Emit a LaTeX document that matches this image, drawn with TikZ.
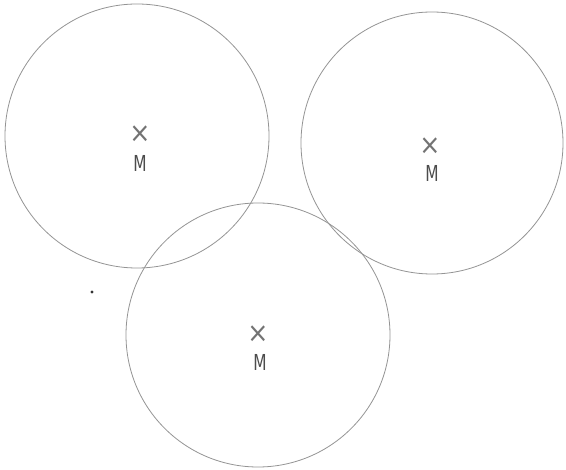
\documentclass[tikz,border=0pt]{standalone}
\usepackage{fontspec}
\setmainfont{DejaVu Sans}
\begin{document}
\begin{tikzpicture}[x=1pt,y=-1pt,
  ring/.style={draw=black!42,line width=0.8pt},
  lbl/.style={text=black!70,font=\fontsize{22}{22}\selectfont,inner sep=0pt},
  crs/.style={text=black!55,font=\fontsize{28}{28}\selectfont,inner sep=0pt}]
\useasboundingbox (0,0) rectangle (566,470);
\fill[white] (0,0) rectangle (566,470);
\node[ring,circle,minimum size=264pt,inner sep=0pt] (c1) at (137,136) {};
\node[ring,circle,minimum size=262pt,inner sep=0pt] (c2) at (432,143) {};
\node[ring,circle,minimum size=264pt,inner sep=0pt] (c3) at (258,335) {};
\node[crs,xscale=0.9] (x1) at (140,134) {×};
\node[lbl,xscale=0.7] (m1) at (140,163) {M};
\node[crs,xscale=0.9] (x2) at (430,146) {×};
\node[lbl,xscale=0.7] (m2) at (432,173) {M};
\node[crs,xscale=0.9] (x3) at (258,334) {×};
\node[lbl,xscale=0.7] (m3) at (260,362) {M};
\fill[black!80] (92,292) circle (1.6pt);
\end{tikzpicture}
\end{document}
